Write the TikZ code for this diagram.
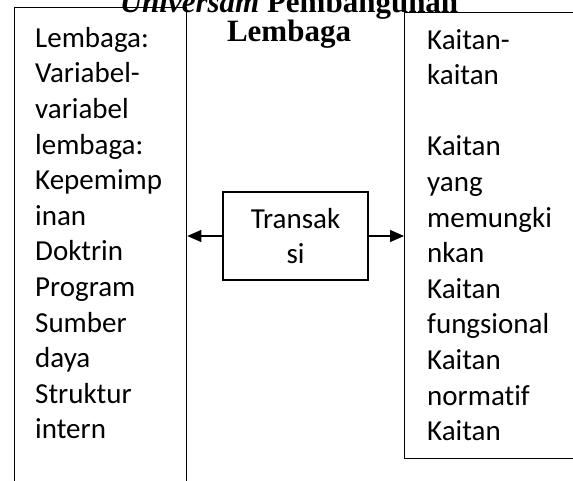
\documentclass[tikz,border=0pt]{standalone}
\usepackage{fontspec}
\setmainfont[Ligatures=CommonOff]{Carlito}
\newfontfamily\judulfont{Liberation Serif}
\usetikzlibrary{positioning,arrows.meta}

\begin{document}
\begin{tikzpicture}[x=1pt,y=-1pt,
    panel/.style={draw,line width=1.3pt,inner sep=0pt},
    teks/.style={inner sep=0pt,align=left,font=\fontsize{29}{35.6}\selectfont},
    judul/.style={inner sep=0pt,align=center,font=\judulfont\bfseries\fontsize{31}{29.5}\selectfont},
    arr/.style={line width=1.3pt,-{Triangle[length=14pt,width=12pt]}}]
    \useasboundingbox (0,0) rectangle (573,481);
    \node[panel,anchor=north west,minimum width=172,minimum height=520] (kiri) at (14,7) {};
    \node[panel,anchor=north west,minimum width=200,minimum height=446] (kanan) at (404,12) {};
    \node[panel,minimum width=145,minimum height=88] (trans) at (295.5,236) {};
    \node[teks,align=center] (transteks) at (trans.center) {Transak\\si};
    \node[teks,anchor=north west] (kiriteks) at (35,27) {Lembaga:\\Variabel-\\variabel\\lembaga:\\Kepemimp\\inan\\Doktrin\\Program\\Sumber\\daya\\Struktur\\intern};
    \node[teks,anchor=north west] (kananteks) at (427,29) {Kaitan-\\kaitan\\\\Kaitan\\yang\\memungki\\nkan\\Kaitan\\fungsional\\Kaitan\\normatif\\Kaitan};
    \node[judul,anchor=south] (judul) at (289,49) {\textit{Universam} Pembangunan\\Lembaga};
    \draw[arr] (trans.west) -- (kiri.east |- trans.west);
    \draw[arr] (trans.east) -- (kanan.west |- trans.east);
  \end{tikzpicture}
\end{document}
